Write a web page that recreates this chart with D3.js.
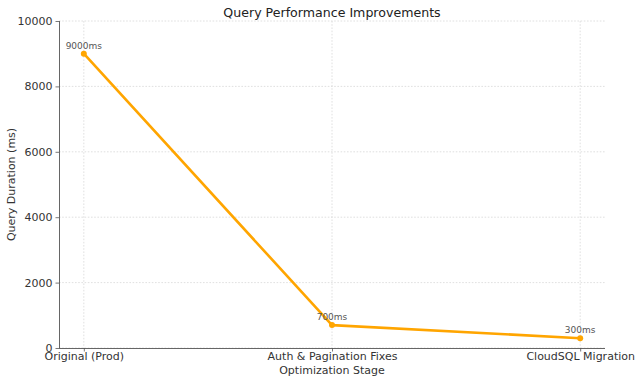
<!DOCTYPE html>
<html><head><meta charset="utf-8">
<script src="https://cdn.jsdelivr.net/npm/d3@7/dist/d3.min.js"></script>
<style>body{margin:0;background:#fff}svg{display:block;font-family:"DejaVu Sans",sans-serif}</style>
</head><body><svg id="c" width="640" height="383"></svg>
<script>
const categories = ["Original (Prod)", "Auth & Pagination Fixes", "CloudSQL Migration"];
const durations = [9000, 700, 300];
const labels = ["9000ms", "700ms", "300ms"];
const yTicks = [0, 2000, 4000, 6000, 8000, 10000];

const svg = d3.select("#c");
const L = 59, R = 605, T = 21, B = 348;
const x = d3.scaleLinear().domain([-0.1, 2.1]).range([L, R]);
const y = d3.scaleLinear().domain([0, 10000]).range([B, T]);

const g = svg.append("g");
// grid
g.selectAll(".gy").data(yTicks).enter().append("line")
  .attr("x1", L).attr("x2", R).attr("y1", d => y(d)).attr("y2", d => y(d))
  .attr("stroke", "#d8d8d8").attr("stroke-width", 0.8).attr("stroke-dasharray", "1.6,1.6");
g.selectAll(".gx").data(categories).enter().append("line")
  .attr("x1", (d, i) => x(i)).attr("x2", (d, i) => x(i)).attr("y1", T).attr("y2", B)
  .attr("stroke", "#d8d8d8").attr("stroke-width", 0.8).attr("stroke-dasharray", "1.6,1.6");

// axes
const yAxis = d3.axisLeft(y).tickValues(yTicks).tickSize(3.5).tickPadding(3).tickFormat(d3.format("d"));
const ya = svg.append("g").attr("transform", `translate(${L},0)`).call(yAxis);
const xAxis = d3.axisBottom(x).tickValues([0, 1, 2]).tickSize(3.5).tickPadding(1).tickFormat(i => categories[i]);
const xa = svg.append("g").attr("transform", `translate(0,${B})`).call(xAxis);
[ya, xa].forEach(a => {
  a.select(".domain").attr("stroke", "#555").attr("stroke-width", 0.9);
  a.selectAll(".tick line").attr("stroke", "#555").attr("stroke-width", 0.8);
  a.selectAll(".tick text").attr("fill", "#333").attr("font-size", 11).attr("font-family", "DejaVu Sans");
});
xa.select(".domain").attr("d", `M${L},0.5H${R}`);
ya.select(".domain").attr("d", `M0.5,${B}V${T}`);

// line
const line = d3.line().x((d, i) => x(i)).y(d => y(d));
svg.append("path").datum(durations).attr("d", line)
  .attr("fill", "none").attr("stroke", "#FFA500").attr("stroke-width", 2.6).attr("stroke-linejoin", "round");
svg.selectAll(".pt").data(durations).enter().append("circle")
  .attr("cx", (d, i) => x(i)).attr("cy", d => y(d)).attr("r", 3).attr("fill", "#FFA500");
svg.selectAll(".lb").data(durations).enter().append("text")
  .attr("x", (d, i) => x(i)).attr("y", d => y(d) - 5).attr("text-anchor", "middle")
  .attr("font-size", 9).attr("fill", "#555").text((d, i) => labels[i]);

// titles
svg.append("text").attr("x", (L + R) / 2).attr("y", 17).attr("text-anchor", "middle")
  .attr("font-size", 12.6).attr("fill", "#222").text("Query Performance Improvements");
svg.append("text").attr("x", (L + R) / 2).attr("y", 374).attr("text-anchor", "middle")
  .attr("font-size", 11).attr("fill", "#333").text("Optimization Stage");
svg.append("text").attr("transform", `translate(15,${(T + B) / 2}) rotate(-90)`).attr("text-anchor", "middle")
  .attr("font-size", 11).attr("fill", "#333").text("Query Duration (ms)");
</script></body></html>
